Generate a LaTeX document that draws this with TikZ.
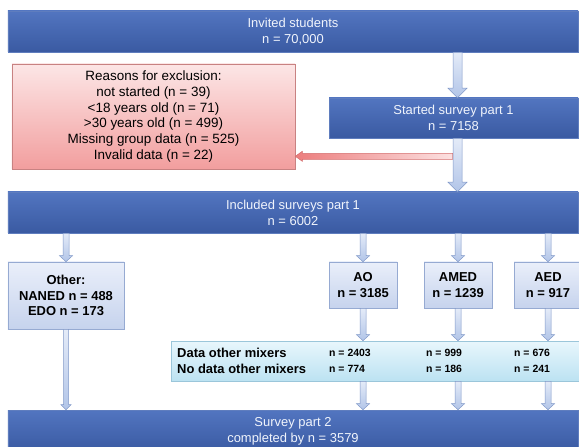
\documentclass[tikz,border=0pt]{standalone}
\usepackage{fontspec}
\setmainfont{Liberation Sans}
\usetikzlibrary{calc}
\definecolor{bluetop}{RGB}{82,117,192}
\definecolor{bluebot}{RGB}{58,90,162}
\definecolor{blueedge}{RGB}{95,125,190}
\definecolor{lbtop}{RGB}{234,239,250}
\definecolor{lbbot}{RGB}{198,211,237}
\definecolor{lbedge}{RGB}{150,170,210}
\definecolor{mxtop}{RGB}{232,246,252}
\definecolor{mxbot}{RGB}{188,226,242}
\definecolor{mxedge}{RGB}{155,198,218}
\definecolor{rdtop}{RGB}{252,230,230}
\definecolor{rdbot}{RGB}{242,158,158}
\definecolor{rdedge}{RGB}{200,130,130}
\definecolor{artop}{RGB}{228,235,248}
\definecolor{arbot}{RGB}{178,197,232}
\definecolor{aredge}{RGB}{128,152,200}
\definecolor{raleft}{RGB}{236,125,125}
\definecolor{raright}{RGB}{252,225,225}
\definecolor{raedge}{RGB}{212,110,110}
\definecolor{txtwhite}{RGB}{240,244,252}
\tikzset{
  bigbox/.style={draw=blueedge, line width=0.6pt, top color=bluetop, bottom color=bluebot,
    text=txtwhite, font=\fontsize{13}{16}\selectfont, align=center, inner sep=0pt},
  lightbox/.style={draw=lbedge, line width=0.6pt, top color=lbtop, bottom color=lbbot,
    font=\bfseries\fontsize{13}{15.5}\selectfont, align=center, inner sep=0pt},
  mixbox/.style={draw=mxedge, line width=0.6pt, top color=mxtop, bottom color=mxbot, inner sep=0pt},
  redbox/.style={draw=rdedge, line width=0.6pt, top color=rdtop, bottom color=rdbot,
    font=\fontsize{13.5}{15.8}\selectfont, align=center, inner sep=0pt},
  mixlabel/.style={anchor=west, inner sep=0pt, font=\bfseries\fontsize{13}{15}\selectfont},
  mixnum/.style={anchor=west, inner sep=0pt, font=\bfseries\fontsize{10.5}{12}\selectfont},
  blockarrow/.style={draw=aredge, line width=0.5pt, top color=artop, bottom color=arbot},
  redarrow/.style={draw=raedge, line width=0.5pt, left color=raleft, right color=raright},
}
% vertical down arrow: from, to, shaft half width, head half width, head length
\newcommand\varrowfrom[5]{%
  \path[blockarrow] let \p1=#1, \p2=#2 in
    (\x1-#3,\y1) -- (\x1+#3,\y1) -- (\x1+#3,\y2+#5) -- (\x1+#4,\y2+#5) -- (\x1,\y2)
    -- (\x1-#4,\y2+#5) -- (\x1-#3,\y2+#5) -- cycle;}
% horizontal left arrow
\newcommand\harrowfrom[5]{%
  \path[redarrow] let \p1=#1, \p2=#2 in
    (\x1,\y1-#3) -- (\x1,\y1+#3) -- (\x2+#5,\y1+#3) -- (\x2+#5,\y1+#4) -- (\x2,\y1)
    -- (\x2+#5,\y1-#4) -- (\x2+#5,\y1-#3) -- cycle;}
\begin{document}
\begin{tikzpicture}[x=1bp,y=-1bp]
\useasboundingbox (0,0) rectangle (579,447);
\clip (0,0) rectangle (579,447);
% boxes
\node[bigbox, minimum width=570bp, minimum height=41bp] (invited) at (293,31.5)
  {Invited students\\n = 70,000};
\node[redbox, minimum width=283bp, minimum height=105bp] (excl) at (153.5,116.5)
  {Reasons for exclusion:\\not started (n = 39)\\<18 years old (n = 71)\\>30 years old (n = 499)\\Missing group data (n = 525)\\Invalid data (n = 22)};
\node[bigbox, minimum width=249bp, minimum height=40bp] (started) at (453.5,118)
  {Started survey part 1\\n = 7158};
\node[bigbox, minimum width=570bp, minimum height=41bp] (included) at (293,212.5)
  {Included surveys part 1\\n = 6002};
\node[lightbox, minimum width=116bp, minimum height=67bp] (other) at (66,295.5)
  {Other:\\NANED n = 488\\EDO n = 173};
\node[lightbox, minimum width=68bp, minimum height=46bp] (ao) at (363,285)
  {AO\\n = 3185};
\node[lightbox, minimum width=68bp, minimum height=46bp] (amed) at (458,285)
  {AMED\\n = 1239};
\node[lightbox, minimum width=68bp, minimum height=46bp] (aed) at (548,285)
  {AED\\n = 917};
\node[mixbox, minimum width=411bp, minimum height=40bp] (mixers) at (376.5,361) {};
\node[mixlabel] (dom) at (177,353) {Data other mixers};
\node[mixlabel] (ndom) at (177,369) {No data other mixers};
\node[mixnum] (d1) at (329,353) {n = 2403};
\node[mixnum] (d2) at (426,353) {n = 999};
\node[mixnum] (d3) at (514,353) {n = 676};
\node[mixnum] (n1) at (329,369) {n = 774};
\node[mixnum] (n2) at (426,369) {n = 186};
\node[mixnum] (n3) at (514,369) {n = 241};
\node[bigbox, minimum width=570bp, minimum height=42bp] (survey) at (293,431)
  {Survey part 2\\completed by n = 3579};
% connectors
\coordinate (sx) at ($(started.north)+(4,0)$);
\varrowfrom{(invited.south -| sx)}{(sx)}{4.5bp}{9.5bp}{9.5bp}
\coordinate (sb) at ($(started.south)+(4,0)$);
\coordinate (rstart) at ($(sb)+(-5,18)$);
\harrowfrom{(rstart)}{(excl.east)}{3bp}{5bp}{7bp}
\varrowfrom{(sb)}{(included.north -| sb)}{4.5bp}{9.5bp}{9.5bp}
\foreach \b in {other, ao, amed, aed}{
  \varrowfrom{(included.south -| \b.north)}{(\b.north)}{3bp}{6.5bp}{6bp}
}
\foreach \b in {ao, amed, aed}{
  \varrowfrom{(\b.south)}{(mixers.north -| \b.south)}{3bp}{6.5bp}{6bp}
  \varrowfrom{(mixers.south -| \b.south)}{(survey.north -| \b.south)}{3bp}{6.5bp}{6bp}
}
\varrowfrom{(other.south)}{(survey.north -| other.south)}{2.5bp}{5bp}{5bp}
\end{tikzpicture}
\end{document}
